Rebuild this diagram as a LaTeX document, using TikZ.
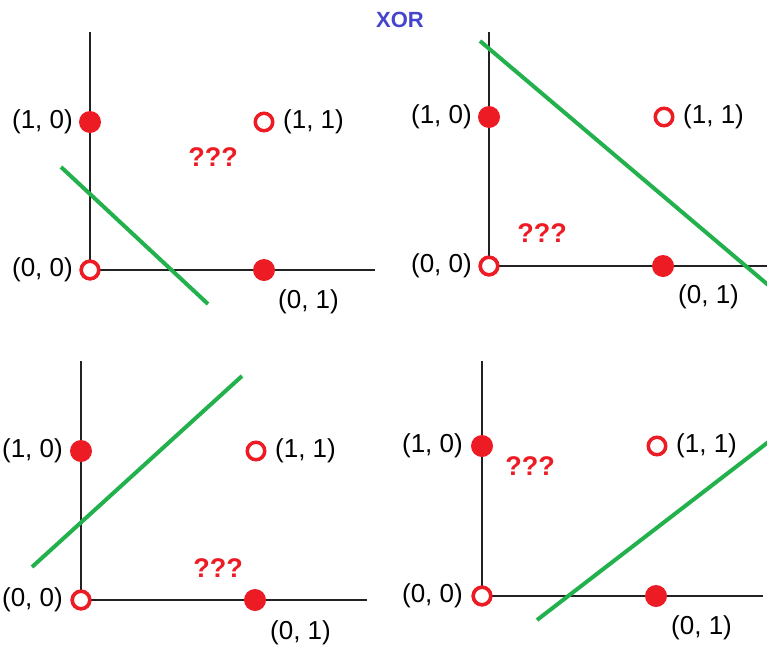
\documentclass[tikz,border=0pt]{standalone}
\usepackage{fontspec}
\setmainfont{Liberation Sans}
\definecolor{pred}{HTML}{ED1C24}
\definecolor{pgreen}{HTML}{22B14C}
\definecolor{pblue}{HTML}{4444CC}
\definecolor{paxis}{HTML}{222222}
\tikzset{
  axisline/.style={draw=paxis, line width=1.8pt},
  sepline/.style={draw=pgreen, line width=4pt},
  fulldot/.style={circle, fill=pred, inner sep=0pt, minimum size=22pt},
  opendot/.style={circle, draw=pred, fill=white, line width=3.5pt, inner sep=0pt, minimum size=17.5pt},
  lbl/.style={inner sep=0pt, font=\fontsize{26}{30}\selectfont, text=black},
  qq/.style={inner sep=0pt, font=\fontsize{27}{30}\selectfont\bfseries, text=pred},
  ttl/.style={inner sep=0pt, font=\fontsize{22}{26}\selectfont\bfseries, text=pblue}
}
\begin{document}
\begin{tikzpicture}[x=1pt,y=-1pt]
\useasboundingbox (0,0) rectangle (767,648);
\clip (0,0) rectangle (767,648);
\node[ttl] (title) at (400,20) {XOR};

% ---------- panel 1 ----------
\coordinate (p1top) at (90,32);
\coordinate (p1right) at (375,270);
\coordinate (p1ga) at (61,167);
\coordinate (p1gb) at (208,304);
\node[opendot] (p1o) at (90,270) {};
\draw[axisline] (p1top) -- (p1o.center);
\draw[axisline] (p1o.center) -- (p1right);
\draw[sepline] (p1ga) -- (p1gb);
\node[fulldot] (p1a) at (90,122) {};
\node[opendot] (p1b) at (264,122) {};
\node[fulldot] (p1c) at (264,270) {};
\node[opendot] (p1o2) at (90,270) {};
\node[lbl, anchor=east] (p1la) at (73,122) {(1, 0)};
\node[lbl, anchor=west] (p1lb) at (283,122) {(1, 1)};
\node[lbl, anchor=east] (p1lo) at (73,270) {(0, 0)};
\node[lbl, anchor=west] (p1lc) at (278,302) {(0, 1)};
\node[qq] (p1q) at (213,157) {???};

% ---------- panel 2 ----------
\coordinate (p2top) at (489,32);
\coordinate (p2right) at (770,266);
\coordinate (p2ga) at (480,41);
\coordinate (p2gb) at (780,295);
\node[opendot] (p2o) at (489,266) {};
\draw[axisline] (p2top) -- (p2o.center);
\draw[axisline] (p2o.center) -- (p2right);
\draw[sepline] (p2ga) -- (p2gb);
\node[fulldot] (p2a) at (489,117) {};
\node[opendot] (p2b) at (664,117) {};
\node[fulldot] (p2c) at (663,266) {};
\node[opendot] (p2o2) at (489,266) {};
\node[lbl, anchor=east] (p2la) at (472,117) {(1, 0)};
\node[lbl, anchor=west] (p2lb) at (683,117) {(1, 1)};
\node[lbl, anchor=east] (p2lo) at (472,266) {(0, 0)};
\node[lbl, anchor=west] (p2lc) at (678,297) {(0, 1)};
\node[qq] (p2q) at (542,233) {???};

% ---------- panel 3 ----------
\coordinate (p3top) at (81,361);
\coordinate (p3right) at (367,600);
\coordinate (p3ga) at (32,567);
\coordinate (p3gb) at (242,376);
\node[opendot] (p3o) at (81,600) {};
\draw[axisline] (p3top) -- (p3o.center);
\draw[axisline] (p3o.center) -- (p3right);
\draw[sepline] (p3ga) -- (p3gb);
\node[fulldot] (p3a) at (81,451) {};
\node[opendot] (p3b) at (256,451) {};
\node[fulldot] (p3c) at (255,600) {};
\node[opendot] (p3o2) at (81,600) {};
\node[lbl, anchor=east] (p3la) at (63,451) {(1, 0)};
\node[lbl, anchor=west] (p3lb) at (275,451) {(1, 1)};
\node[lbl, anchor=east] (p3lo) at (63,600) {(0, 0)};
\node[lbl, anchor=west] (p3lc) at (270,633) {(0, 1)};
\node[qq] (p3q) at (218,568) {???};

% ---------- panel 4 ----------
\coordinate (p4top) at (482,361);
\coordinate (p4right) at (763,596);
\coordinate (p4ga) at (537,620);
\coordinate (p4gb) at (780,433);
\node[opendot] (p4o) at (482,596) {};
\draw[axisline] (p4top) -- (p4o.center);
\draw[axisline] (p4o.center) -- (p4right);
\draw[sepline] (p4ga) -- (p4gb);
\node[fulldot] (p4a) at (482,446) {};
\node[opendot] (p4b) at (657,446) {};
\node[fulldot] (p4c) at (656,596) {};
\node[opendot] (p4o2) at (482,596) {};
\node[lbl, anchor=east] (p4la) at (463,446) {(1, 0)};
\node[lbl, anchor=west] (p4lb) at (676,446) {(1, 1)};
\node[lbl, anchor=east] (p4lo) at (463,596) {(0, 0)};
\node[lbl, anchor=west] (p4lc) at (671,628) {(0, 1)};
\node[qq] (p4q) at (530,466) {???};
\end{tikzpicture}
\end{document}
